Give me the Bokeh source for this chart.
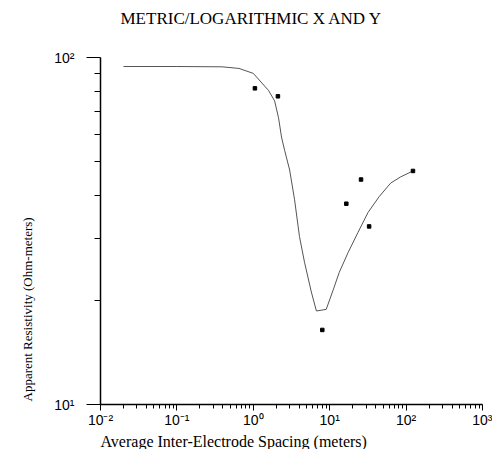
from bokeh.plotting import figure
from bokeh.models import FixedTicker, Title, Range1d
from bokeh.embed import file_html
from bokeh.resources import INLINE

# Model curve
curve_x = [0.02, 0.1, 0.39, 0.65, 1.0, 1.58, 1.9, 2.14, 2.34, 2.57, 2.99, 3.47, 4.02, 4.68,
           5.75, 6.7, 9.0, 11.2, 13.3, 17.4, 23.4, 31.6, 44.3, 63.1, 85.1, 123]
curve_y = [94.2, 94.2, 94.0, 93.0, 90.0, 80.4, 75.0, 67.0, 59.0, 54.0, 47.4, 38.9, 30.5, 25.7,
           21.1, 18.6, 18.8, 21.5, 24.0, 27.4, 31.3, 35.7, 39.7, 43.5, 45.3, 47.1]

# Field measurements
pts_x = [1.05, 2.1, 8.0, 16.5, 25.7, 32.8, 123]
pts_y = [81.5, 77.3, 16.4, 37.9, 44.5, 32.6, 47.1]

x_ticks = [0.01, 0.1, 1, 10, 100, 1000]
x_tick_labels = ["10\u207b\u00b2", "10\u207b\u00b9", "10\u2070", "10\u00b9", "10\u00b2", "10\u00b3"]
y_ticks = [10, 100]
y_tick_labels = ["10\u00b9", "10\u00b2"]

x_minor = [m * 10.0 ** e for e in range(-2, 3) for m in range(2, 10)]
y_minor = [m * 10 for m in range(2, 10)]

p = figure(width=492, height=449, x_axis_type="log", y_axis_type="log",
           x_range=Range1d(0.01, 1000), y_range=Range1d(10, 100),
           output_backend="svg", toolbar_location=None,
           min_border_left=98, min_border_right=10, min_border_top=57, min_border_bottom=43)

p.outline_line_color = None
p.xgrid.visible = False
p.ygrid.visible = False
p.background_fill_color = "white"
p.border_fill_color = "white"

p.xaxis.ticker = FixedTicker(ticks=x_ticks, minor_ticks=x_minor)
p.yaxis.ticker = FixedTicker(ticks=y_ticks, minor_ticks=y_minor)
p.xaxis.major_label_overrides = dict(zip(x_ticks, x_tick_labels))
p.yaxis.major_label_overrides = dict(zip(y_ticks, y_tick_labels))

for ax in (p.xaxis, p.yaxis):
    ax.axis_line_color = "black"
    ax.axis_line_width = 1.5
    ax.major_tick_line_color = "black"
    ax.minor_tick_line_color = "black"
    ax.major_tick_in = 0
    ax.minor_tick_in = 0
    ax.major_label_text_font = "Liberation Sans"
    ax.major_label_text_font_size = "14px"
    ax.major_label_text_color = "black"

p.xaxis.major_tick_out = 6
p.xaxis.minor_tick_out = 4
p.xaxis.major_label_standoff = 1
p.yaxis.major_tick_out = 14
p.yaxis.minor_tick_out = 6
p.yaxis.major_label_standoff = 12

p.title = None
# spacer between frame and title
p.add_layout(Title(text=" ", text_font_size="25px", standoff=0), "above")
p.add_layout(Title(text="METRIC/LOGARITHMIC X AND Y", align="left", offset=20,
                   standoff=0, text_font="Liberation Serif", text_font_size="17px",
                   text_font_style="normal", text_color="black"), "above")
p.add_layout(Title(text="Average Inter-Electrode Spacing (meters)", align="left", offset=0,
                   standoff=0, text_font="Liberation Serif", text_font_size="16px",
                   text_font_style="normal", text_color="black"), "below")
p.add_layout(Title(text="Apparent Resistivity (Ohm-meters)", align="left", offset=3,
                   standoff=34, text_font="Liberation Serif", text_font_size="13px",
                   text_font_style="normal", text_color="black"), "left")

p.line(curve_x, curve_y, line_color="#555555", line_width=1)
p.scatter(pts_x, pts_y, marker="square", size=3.5, color="black")

open("out.html", "w").write(file_html(p, INLINE))
